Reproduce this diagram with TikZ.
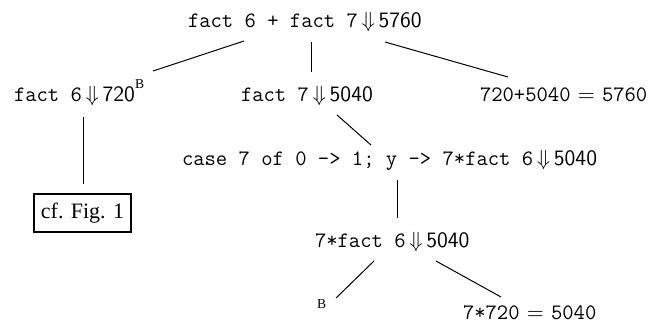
\documentclass[tikz,border=0pt]{standalone}
\usepackage{fontspec}
\newfontfamily\timesf{Liberation Serif}
\newcommand{\dn}{\,$\Downarrow$\,}
\newcommand{\sv}[1]{\textsf{#1}}
\begin{document}
\begin{tikzpicture}[x=0.5pt,y=-0.5pt,
  lbl/.style={anchor=base west,inner sep=0pt,outer sep=0pt,font=\fontsize{11}{13}\selectfont},
  boxed/.style={draw,line width=0.6pt,inner sep=0pt,minimum width=48.5pt,minimum height=19pt,font=\fontsize{11}{13}\selectfont\timesf},
  conn/.style={line width=0.5pt}]
\useasboundingbox (0,0) rectangle (668,323);
% nodes
\node[lbl] (top)  at (188,27)  {\texttt{fact 6 + fact 7}\dn\sv{5760}};
\node[lbl] (f6)   at (14,101)  {\texttt{fact 6}\dn\sv{720}\raisebox{6.5pt}{\fontsize{6.8}{7}\selectfont\timesf B}};
\node[lbl] (f7)   at (241,101) {\texttt{fact 7}\dn\sv{5040}};
\node[lbl] (sum)  at (480,101) {\texttt{720+5040} $=$ \texttt{5760}};
\node[lbl] (case) at (182,165) {\texttt{case 7 of 0 -> 1; y -> 7*fact 6}\dn\sv{5040}};
\node[boxed] (cf) at (82.5,213) {cf. Fig. 1};
\node[lbl] (mul)  at (315,247) {\texttt{7*fact 6}\dn\sv{5040}};
\node[lbl] (bb)   at (317,308) {\fontsize{6.8}{7}\selectfont\timesf B};
\node[lbl] (res)  at (463,319) {\texttt{7*720} $=$ \texttt{5040}};
% connector end points
\coordinate (top-l) at (244,41);  \coordinate (f6-t)  at (153,71);
\coordinate (top-m) at (311,42);  \coordinate (f7-t)  at (311,72);
\coordinate (top-r) at (385,42);  \coordinate (sum-t) at (508,77);
\coordinate (f6-b)  at (83,117);  \coordinate (cf-t)  at (83,184);
\coordinate (f7-b)  at (337,115); \coordinate (case-t) at (371,145);
\coordinate (case-b) at (397,180); \coordinate (mul-t) at (397,218);
\coordinate (mul-l) at (374,261); \coordinate (bb-t)  at (336,298);
\coordinate (mul-r) at (436,261); \coordinate (res-t) at (501,297);
% connectors
\draw[conn] (top-l) -- (f6-t);
\draw[conn] (top-m) -- (f7-t);
\draw[conn] (top-r) -- (sum-t);
\draw[conn] (f6-b) -- (cf-t);
\draw[conn] (f7-b) -- (case-t);
\draw[conn] (case-b) -- (mul-t);
\draw[conn] (mul-l) -- (bb-t);
\draw[conn] (mul-r) -- (res-t);
\end{tikzpicture}
\end{document}
